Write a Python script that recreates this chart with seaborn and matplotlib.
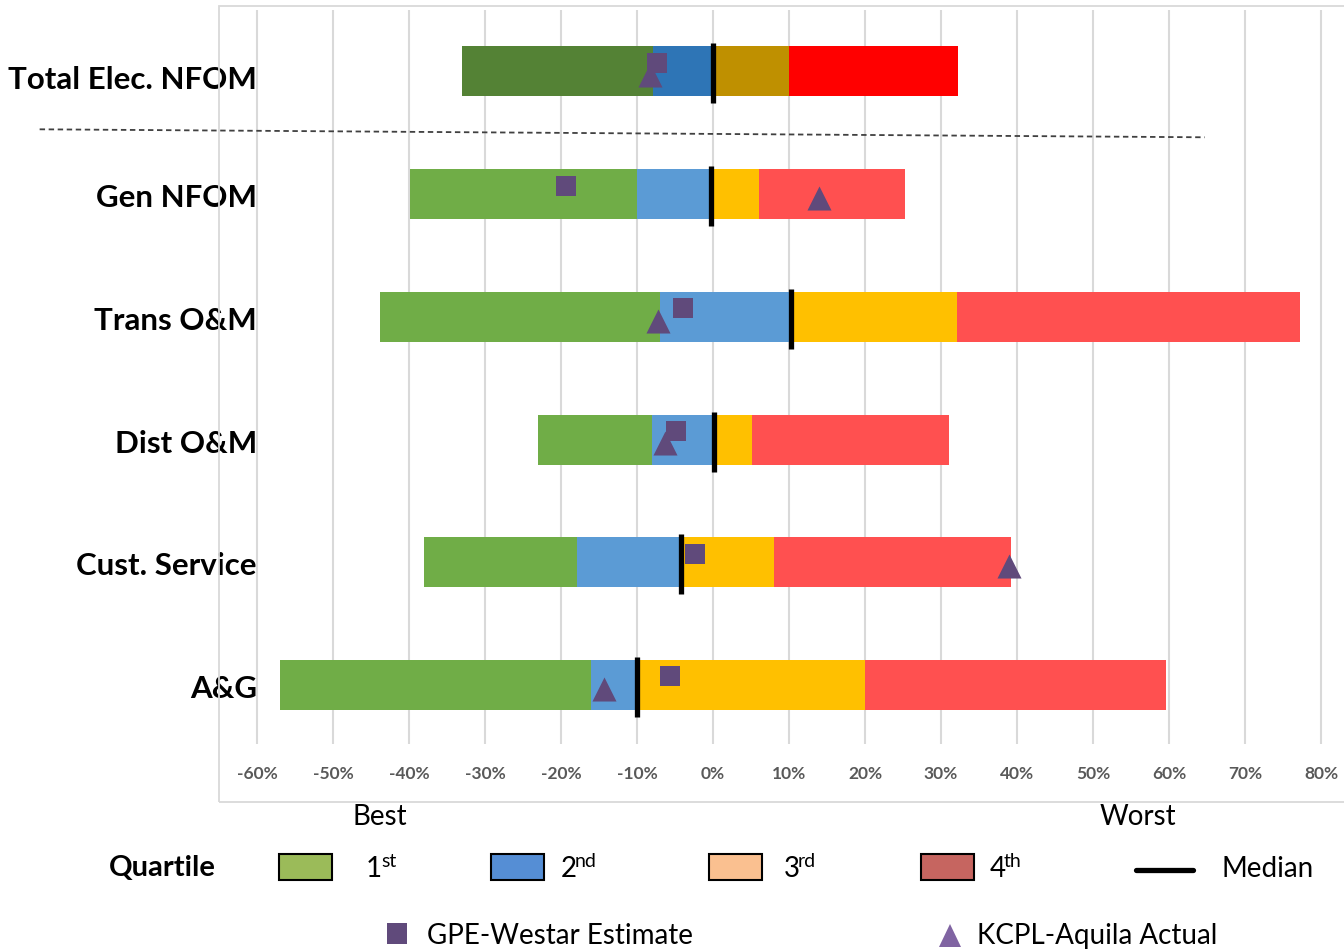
import numpy as np
import pandas as pd
import seaborn as sns
import matplotlib.pyplot as plt
from matplotlib.patches import Rectangle, Polygon
from matplotlib.lines import Line2D

# Datos (porcentaje frente a la mediana de referencia)
categories = ['Total Elec. NFOM', 'Gen NFOM', 'Trans O&M', 'Dist O&M', 'Cust. Service', 'A&G']
lows = [-33.0, -39.9, -43.8, -23.0, -38.0, -57.0]
q1_ends = [-7.9, -10.0, -7.0, -8.0, -17.9, -16.1]
medians = [0.0, -0.2, 10.2, 0.1, -4.2, -10.0]
q3_ends = [10.0, 6.1, 32.1, 5.1, 8.0, 20.0]
highs = [32.2, 25.2, 77.2, 31.0, 39.2, 59.6]
gpe_westar = [-7.4, -19.3, -3.9, -4.9, -2.4, -5.6]
kcpl_aquila = [-8.3, 13.9, -7.2, -6.3, 38.9, -14.3]
tick_values = [-60, -50, -40, -30, -20, -10, 0, 10, 20, 30, 40, 50, 60, 70, 80]
quartile_labels = [('1', 'st'), ('2', 'nd'), ('3', 'rd'), ('4', 'th')]

W, H = 1344, 953


def px(x, y):
    """Convierte pixeles (desde arriba a la izquierda) a fraccion de figura."""
    return (x / W, 1 - y / H)


sns.set_theme(style='white')
plt.rcParams['font.family'] = ['Lato', 'DejaVu Sans']
plt.rcParams['text.color'] = 'black'

fig = plt.figure(figsize=(W / 100, H / 100), dpi=100)
ax = fig.add_axes([219 / W, 1 - 745 / H, (W - 219) / W, (745 - 11) / H])

# Colores: la primera fila usa tonos mas oscuros
dark_colors = ['#548235', '#2E75B6', '#BF9000', '#FF0000']
light_colors = ['#70AD47', '#5B9BD5', '#FFC000', '#FF5050']

y = np.arange(len(categories))
bar_h = 0.407
for i in range(len(categories)):
    bounds = [lows[i], q1_ends[i], medians[i], q3_ends[i], highs[i]]
    colors = dark_colors if i == 0 else light_colors
    for k in range(4):
        ax.barh(y[i], bounds[k + 1] - bounds[k], left=bounds[k], height=bar_h,
                color=colors[k], edgecolor='none', zorder=2)

# Lineas de mediana
ax.vlines(medians, y - 0.228, y + 0.26, color='black', lw=3.8, zorder=5)

# Marcadores
df_tri = pd.DataFrame({'x': kcpl_aquila, 'y': y + 0.03})
df_sq = pd.DataFrame({'x': gpe_westar, 'y': y - 0.07})
sns.scatterplot(data=df_tri, x='x', y='y', marker='^', s=300, color='#604A7B',
                linewidth=0, ax=ax, zorder=6)
sns.scatterplot(data=df_sq, x='x', y='y', marker='s', s=228, color='#604A7B',
                linewidth=0, ax=ax, zorder=7)

# Etiquetas de categoria
for i, name in enumerate(categories):
    off = 0.138 if i == 0 else 0.098
    ax.text(-60, y[i] + off, name, ha='right', va='baseline', fontsize=22.5,
            fontweight='bold', color='black', zorder=8)

# Linea discontinua bajo el total
ax.plot([-88.6, 64.7], [0.472, 0.537], ls=(0, (3, 2)), color='#404040', lw=1.3,
        clip_on=False, zorder=3)

ax.set_xlim(-65, 83.03)
ax.set_ylim(5.48, -0.5)
ax.set_xticks(tick_values)
ax.set_xticklabels([f'{v}%' for v in tick_values])
ax.set_yticks([])
ax.set_xlabel('')
ax.set_ylabel('')
ax.xaxis.grid(True, color='#d9d9d9', lw=1.5, zorder=0)
ax.set_axisbelow(True)
ax.tick_params(axis='x', length=0, pad=15, labelsize=12.5, labelcolor='#595959')
for lbl in ax.get_xticklabels():
    lbl.set_fontweight('bold')
for sp in ax.spines.values():
    sp.set_visible(False)

# Marco del area de trazado
x0, y0 = px(219, 803)
fig.add_artist(Rectangle((x0, y0), (1360 - 219) / W, (803 - 7) / H, fill=False,
                         edgecolor='#d9d9d9', lw=1.3, transform=fig.transFigure))

# Leyenda dibujada a mano
fig.text(*px(380, 825), 'Best', ha='center', va='baseline', fontsize=20)
fig.text(*px(1138, 825), 'Worst', ha='center', va='baseline', fontsize=20)
fig.text(*px(216, 876), 'Quartile', ha='right', va='baseline', fontsize=21,
         fontweight='bold')

legend_colors = ['#9BBB59', '#558ED5', '#FAC090', '#C66560']
box_x = [279, 491, 709, 921]
lab_x = [366, 561, 784, 990]
for c, bx, lx, (num, sup) in zip(legend_colors, box_x, lab_x, quartile_labels):
    rx, ry = px(bx, 881)
    fig.add_artist(Rectangle((rx, ry), 53 / W, 26 / H, facecolor=c, edgecolor='black',
                             lw=1.5, transform=fig.transFigure))
    fig.text(*px(lx, 877), num, ha='left', va='baseline', fontsize=20)
    fig.text(*px(lx + 15 if num == '1' else lx + 14, 867), sup, ha='left',
             va='baseline', fontsize=14)

fig.add_artist(Line2D([1136 / W, 1193 / W], [1 - 871 / H, 1 - 871 / H], color='black',
                      lw=3.8, transform=fig.transFigure))
fig.text(*px(1222, 877), 'Median', ha='left', va='baseline', fontsize=20)

sx, sy = px(387, 945)
fig.add_artist(Rectangle((sx, sy), 20 / W, 21 / H, facecolor='#604A7B', edgecolor='none',
                         transform=fig.transFigure))
fig.text(*px(427, 944), 'GPE-Westar Estimate', ha='left', va='baseline', fontsize=20)
fig.add_artist(Polygon([px(939, 948), px(961, 948), px(950, 925)], closed=True,
                       facecolor='#8064A2', edgecolor='none', transform=fig.transFigure))
fig.text(*px(977, 944), 'KCPL-Aquila Actual', ha='left', va='baseline', fontsize=20)

fig.savefig('out.png', dpi=100)
